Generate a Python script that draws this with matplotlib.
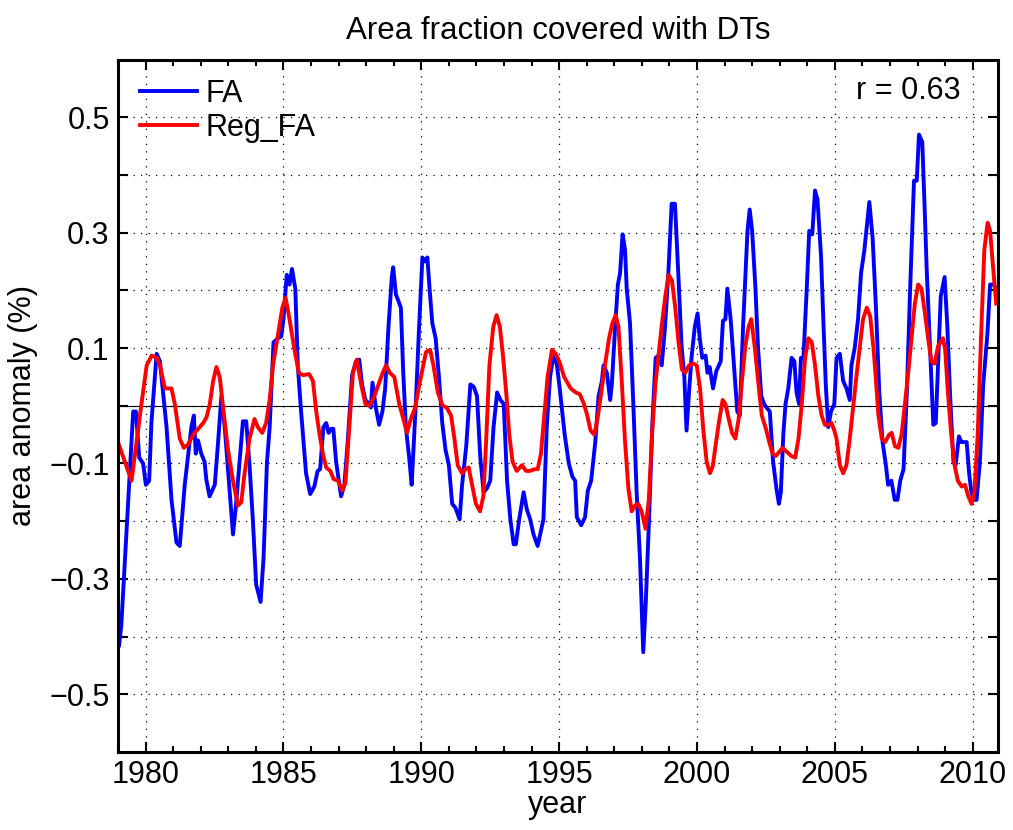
import matplotlib
matplotlib.use('Agg')
import matplotlib.pyplot as plt
from matplotlib.ticker import FixedLocator, MultipleLocator

# FA anomaly (%), read at the turning points of the curve
fa_year = [1979.04, 1979.12, 1979.55, 1979.65, 1979.77, 1979.91, 1980.01, 1980.13, 1980.21,
           1980.40, 1980.52, 1980.76, 1980.94, 1981.12, 1981.24, 1981.42, 1981.66, 1981.75, 1981.82,
           1981.90, 1982.02, 1982.14, 1982.20, 1982.32, 1982.51, 1982.63, 1982.75, 1982.87, 1983.05,
           1983.17, 1983.27, 1983.41, 1983.53, 1983.65, 1983.77, 1983.89, 1984.01, 1984.17, 1984.28,
           1984.40, 1984.50, 1984.64, 1984.80, 1984.92, 1985.00, 1985.12, 1985.22, 1985.31, 1985.43,
           1985.52, 1985.64, 1985.82, 1985.97, 1986.12, 1986.24, 1986.33, 1986.45, 1986.55, 1986.64,
           1986.73, 1986.81, 1986.91, 1987.09, 1987.21, 1987.33, 1987.49, 1987.63, 1987.75, 1987.85,
           1987.97, 1988.11, 1988.17, 1988.23, 1988.35, 1988.47, 1988.59, 1988.69, 1988.81, 1988.93,
           1988.98, 1989.08, 1989.26, 1989.34, 1989.44, 1989.56, 1989.65, 1989.80, 1989.92, 1990.04,
           1990.13, 1990.22, 1990.30, 1990.40, 1990.52, 1990.64, 1990.76, 1990.88, 1991.00, 1991.12,
           1991.24, 1991.39, 1991.48, 1991.63, 1991.78, 1991.90, 1992.02, 1992.14, 1992.26, 1992.38,
           1992.50, 1992.62, 1992.75, 1992.87, 1992.99, 1993.11, 1993.23, 1993.35, 1993.43, 1993.55,
           1993.71, 1993.83, 1993.95, 1994.07, 1994.22, 1994.34, 1994.43, 1994.55, 1994.67, 1994.80,
           1994.92, 1995.02, 1995.20, 1995.35, 1995.48, 1995.58, 1995.64, 1995.80, 1995.94, 1996.04,
           1996.16, 1996.31, 1996.43, 1996.55, 1996.61, 1996.73, 1996.85, 1996.91, 1997.03, 1997.13,
           1997.21, 1997.30, 1997.39, 1997.45, 1997.57, 1997.69, 1997.81, 1997.93, 1998.05, 1998.14,
           1998.26, 1998.38, 1998.50, 1998.60, 1998.72, 1998.84, 1998.96, 1999.08, 1999.20, 1999.32,
           1999.44, 1999.54, 1999.62, 1999.71, 1999.80, 1999.92, 2000.02, 2000.10, 2000.19, 2000.31,
           2000.38, 2000.46, 2000.58, 2000.70, 2000.86, 2000.94, 2001.03, 2001.10, 2001.22, 2001.34,
           2001.46, 2001.55, 2001.67, 2001.83, 2001.91, 2002.00, 2002.12, 2002.21, 2002.33, 2002.43,
           2002.52, 2002.64, 2002.76, 2002.88, 2002.97, 2003.04, 2003.13, 2003.21, 2003.31, 2003.43,
           2003.53, 2003.61, 2003.70, 2003.77, 2003.86, 2003.98, 2004.07, 2004.18, 2004.28, 2004.37,
           2004.50, 2004.58, 2004.67, 2004.76, 2004.86, 2004.98, 2005.06, 2005.18, 2005.30, 2005.42,
           2005.54, 2005.60, 2005.72, 2005.84, 2005.95, 2006.07, 2006.25, 2006.37, 2006.49, 2006.61,
           2006.73, 2006.85, 2006.93, 2007.05, 2007.17, 2007.27, 2007.37, 2007.49, 2007.61, 2007.73,
           2007.87, 2007.97, 2008.05, 2008.17, 2008.26, 2008.33, 2008.42, 2008.50, 2008.57, 2008.66,
           2008.74, 2008.84, 2008.98, 2009.08, 2009.18, 2009.30, 2009.38, 2009.50, 2009.59, 2009.66,
           2009.78, 2009.87, 2009.95, 2010.05, 2010.14, 2010.26, 2010.38, 2010.53, 2010.63, 2010.75,
           2010.90]
fa = [-0.415, -0.380, -0.010, -0.010, -0.090, -0.100, -0.137, -0.130, -0.030,
      0.090, 0.077, -0.037, -0.163, -0.237, -0.243, -0.137, -0.037, -0.017, -0.083,
      -0.060, -0.083, -0.097, -0.127, -0.157, -0.137, -0.063, 0.017, -0.037, -0.150,
      -0.223, -0.177, -0.097, -0.027, -0.027, -0.103, -0.197, -0.310, -0.340, -0.263,
      -0.100, -0.037, 0.110, 0.117, 0.120, 0.150, 0.227, 0.210, 0.237, 0.203,
      0.070, -0.010, -0.117, -0.153, -0.140, -0.113, -0.110, -0.037, -0.030, -0.047,
      -0.040, -0.040, -0.097, -0.157, -0.137, -0.063, 0.053, 0.077, 0.080, 0.037,
      0.010, 0.003, -0.003, 0.040, -0.003, -0.033, -0.010, 0.030, 0.137, 0.223,
      0.240, 0.193, 0.170, 0.063, -0.037, -0.090, -0.137, 0.003, 0.137, 0.257,
      0.250, 0.257, 0.203, 0.143, 0.117, 0.050, -0.030, -0.077, -0.103, -0.170,
      -0.177, -0.197, -0.137, -0.070, 0.037, 0.033, 0.017, -0.090, -0.150, -0.143,
      -0.130, -0.037, 0.023, 0.010, 0.003, -0.130, -0.197, -0.240, -0.240, -0.197,
      -0.150, -0.180, -0.197, -0.223, -0.243, -0.217, -0.197, -0.037, 0.050, 0.090,
      0.070, 0.030, -0.050, -0.100, -0.123, -0.130, -0.193, -0.207, -0.193, -0.147,
      -0.130, -0.063, 0.017, 0.043, 0.070, 0.057, 0.010, 0.037, 0.137, 0.210,
      0.230, 0.297, 0.270, 0.203, 0.143, 0.003, -0.150, -0.263, -0.427, -0.343,
      -0.197, -0.030, 0.083, 0.087, 0.070, 0.137, 0.230, 0.350, 0.350, 0.230,
      0.103, 0.050, -0.043, 0.023, 0.083, 0.137, 0.160, 0.117, 0.083, 0.087,
      0.057, 0.067, 0.030, 0.060, 0.077, 0.147, 0.150, 0.203, 0.150, 0.070,
      -0.010, -0.017, 0.137, 0.303, 0.340, 0.303, 0.203, 0.103, 0.017, 0.003,
      -0.003, -0.010, -0.097, -0.143, -0.170, -0.150, -0.050, 0.003, 0.030, 0.083,
      0.077, 0.023, 0.003, 0.083, 0.083, 0.203, 0.303, 0.297, 0.373, 0.357,
      0.257, 0.150, 0.037, -0.037, -0.010, 0.003, 0.083, 0.090, 0.043, 0.030,
      0.010, 0.070, 0.100, 0.150, 0.230, 0.270, 0.353, 0.290, 0.170, 0.023,
      -0.063, -0.103, -0.137, -0.130, -0.163, -0.163, -0.130, -0.110, 0.023, 0.203,
      0.390, 0.390, 0.470, 0.457, 0.337, 0.237, 0.137, 0.050, -0.033, -0.030,
      0.070, 0.190, 0.223, 0.137, 0.017, -0.097, -0.103, -0.053, -0.063, -0.063,
      -0.063, -0.117, -0.150, -0.163, -0.163, -0.097, 0.037, 0.123, 0.210, 0.210,
      0.200]

# regression-based FA (Reg_FA)
reg_year = [1979.00, 1979.25, 1979.49, 1979.67, 1979.85, 1980.04, 1980.22, 1980.40, 1980.52, 1980.70,
            1980.82, 1980.94, 1981.06, 1981.24, 1981.39, 1981.54, 1981.73, 1981.91, 1982.09, 1982.21,
            1982.33, 1982.45, 1982.57, 1982.69, 1982.81, 1982.99, 1983.17, 1983.35, 1983.47, 1983.59,
            1983.77, 1983.95, 1984.07, 1984.23, 1984.37, 1984.50, 1984.62, 1984.80, 1984.96, 1985.08,
            1985.22, 1985.40, 1985.56, 1985.71, 1985.93, 1986.07, 1986.19, 1986.31, 1986.43, 1986.55,
            1986.70, 1986.82, 1986.98, 1987.13, 1987.25, 1987.37, 1987.52, 1987.66, 1987.82, 1987.97,
            1988.12, 1988.30, 1988.45, 1988.60, 1988.72, 1988.86, 1989.02, 1989.20, 1989.35, 1989.48,
            1989.62, 1989.78, 1989.93, 1990.17, 1990.32, 1990.44, 1990.60, 1990.77, 1990.92, 1991.08,
            1991.20, 1991.32, 1991.48, 1991.60, 1991.72, 1991.84, 1991.98, 1992.13, 1992.25, 1992.35,
            1992.47, 1992.61, 1992.73, 1992.85, 1992.97, 1993.09, 1993.19, 1993.31, 1993.46, 1993.65,
            1993.80, 1993.94, 1994.10, 1994.22, 1994.34, 1994.46, 1994.58, 1994.74, 1994.88, 1995.02,
            1995.18, 1995.42, 1995.60, 1995.75, 1995.90, 1996.02, 1996.14, 1996.27, 1996.39, 1996.51,
            1996.66, 1996.81, 1996.93, 1997.05, 1997.15, 1997.27, 1997.39, 1997.51, 1997.63, 1997.75,
            1997.87, 1997.99, 1998.13, 1998.25, 1998.37, 1998.49, 1998.61, 1998.73, 1998.85, 1998.97,
            1999.09, 1999.21, 1999.33, 1999.45, 1999.57, 1999.71, 1999.87, 1999.99, 2000.11, 2000.23,
            2000.35, 2000.47, 2000.57, 2000.67, 2000.79, 2000.93, 2001.03, 2001.15, 2001.27, 2001.39,
            2001.51, 2001.63, 2001.75, 2001.87, 2001.97, 2002.09, 2002.23, 2002.35, 2002.50, 2002.62,
            2002.74, 2002.86, 2002.98, 2003.10, 2003.26, 2003.42, 2003.56, 2003.68, 2003.80, 2003.92,
            2004.04, 2004.16, 2004.28, 2004.40, 2004.52, 2004.64, 2004.76, 2004.88, 2004.98, 2005.06,
            2005.18, 2005.30, 2005.42, 2005.54, 2005.66, 2005.78, 2005.90, 2006.02, 2006.16, 2006.28,
            2006.40, 2006.48, 2006.58, 2006.70, 2006.82, 2006.97, 2007.06, 2007.18, 2007.30, 2007.42,
            2007.54, 2007.66, 2007.78, 2007.90, 2008.02, 2008.14, 2008.26, 2008.38, 2008.50, 2008.62,
            2008.74, 2008.92, 2009.00, 2009.10, 2009.22, 2009.34, 2009.46, 2009.60, 2009.72, 2009.84,
            2009.96, 2010.06, 2010.18, 2010.30, 2010.42, 2010.54, 2010.63, 2010.72, 2010.85]
reg_fa = [-0.063, -0.097, -0.130, -0.063, 0.003, 0.070, 0.087, 0.083, 0.070, 0.030,
          0.030, 0.030, 0.003, -0.057, -0.073, -0.067, -0.050, -0.040, -0.030, -0.020,
          0.003, 0.043, 0.067, 0.050, -0.003, -0.077, -0.130, -0.173, -0.167, -0.117,
          -0.057, -0.023, -0.037, -0.047, -0.030, 0.010, 0.070, 0.123, 0.170, 0.187,
          0.150, 0.097, 0.057, 0.053, 0.055, 0.043, -0.010, -0.050, -0.083, -0.107,
          -0.113, -0.127, -0.130, -0.147, -0.133, -0.050, 0.057, 0.080, 0.037, 0.003,
          0.000, 0.017, 0.037, 0.057, 0.070, 0.057, 0.050, 0.003, -0.023, -0.047,
          -0.023, -0.003, 0.037, 0.093, 0.097, 0.070, 0.023, 0.000, -0.003, -0.017,
          -0.057, -0.103, -0.117, -0.110, -0.107, -0.137, -0.170, -0.183, -0.157, -0.063,
          0.070, 0.137, 0.157, 0.137, 0.083, 0.017, -0.050, -0.097, -0.113, -0.103,
          -0.113, -0.113, -0.110, -0.110, -0.083, -0.017, 0.050, 0.097, 0.090, 0.075,
          0.050, 0.030, 0.023, 0.020, 0.003, -0.017, -0.043, -0.050, -0.023, 0.017,
          0.070, 0.117, 0.143, 0.157, 0.137, 0.043, -0.063, -0.143, -0.183, -0.173,
          -0.170, -0.183, -0.213, -0.163, -0.050, 0.037, 0.090, 0.143, 0.190, 0.227,
          0.217, 0.170, 0.110, 0.063, 0.057, 0.070, 0.073, 0.070, 0.030, -0.043,
          -0.097, -0.117, -0.105, -0.070, -0.030, 0.010, 0.003, -0.023, -0.047, -0.057,
          -0.023, 0.043, 0.103, 0.137, 0.150, 0.103, 0.037, -0.017, -0.040, -0.063,
          -0.083, -0.087, -0.080, -0.073, -0.080, -0.087, -0.090, -0.057, 0.003, 0.083,
          0.117, 0.110, 0.070, 0.017, -0.017, -0.033, -0.033, -0.030, -0.043, -0.057,
          -0.103, -0.117, -0.103, -0.057, -0.003, 0.050, 0.100, 0.150, 0.170, 0.155,
          0.100, 0.050, -0.017, -0.057, -0.063, -0.050, -0.047, -0.070, -0.073, -0.050,
          0.003, 0.057, 0.117, 0.177, 0.210, 0.203, 0.163, 0.117, 0.077, 0.073,
          0.103, 0.117, 0.097, 0.023, -0.050, -0.103, -0.130, -0.140, -0.137, -0.157,
          -0.170, -0.150, -0.050, 0.117, 0.270, 0.317, 0.303, 0.250, 0.177]

x_ticks = [1980, 1985, 1990, 1995, 2000, 2005, 2010]
y_ticks = [-0.5, -0.4, -0.3, -0.2, -0.1, 0.0, 0.1, 0.2, 0.3, 0.4, 0.5]
y_ticklabels = ['\u22120.5', '', '\u22120.3', '', '\u22120.1', '', '0.1', '', '0.3', '', '0.5']
r_value = 0.63

plt.rcParams['font.family'] = ['Liberation Sans', 'DejaVu Sans']
plt.rcParams['font.size'] = 22

fig = plt.figure(figsize=(10.13, 8.3), dpi=100)
ax = fig.add_axes([0.1165, 0.094, 0.8687, 0.8343])

ax.plot(fa_year, fa, color=(0, 0, 1), lw=2.8, label='FA')
ax.plot(reg_year, reg_fa, color=(1, 0, 0), lw=2.8, label='Reg_FA')
ax.axhline(0, color='k', lw=0.8, zorder=1)

ax.set_xlim(1979, 2010 + 11 / 12)
ax.set_ylim(-0.6, 0.6)

ax.xaxis.set_major_locator(FixedLocator(x_ticks))
ax.xaxis.set_minor_locator(MultipleLocator(1))
ax.set_yticks(y_ticks)
ax.set_yticklabels(y_ticklabels)

ax.tick_params(which='both', direction='in', top=True, right=True, width=1.5, color='k')
ax.tick_params(which='major', length=7, pad=6)
ax.tick_params(which='minor', length=4)
ax.grid(True, which='major', color='k', linestyle=(0, (1, 5)), linewidth=0.9)

for s in ax.spines.values():
    s.set_linewidth(2.2)

ax.set_xlabel('year', labelpad=0)
ax.set_ylabel('area anomaly (%)', labelpad=8)
ax.set_title('Area fraction covered with DTs', fontsize=22.5, pad=15)

ax.legend(loc='upper left', bbox_to_anchor=(0.025, 0.972), frameon=False,
          borderaxespad=0, borderpad=0, handlelength=1.85, handletextpad=0.3,
          labelspacing=0.12)
ax.text(0.957, 0.955, 'r = %.2f' % r_value, transform=ax.transAxes,
        ha='right', va='center')

fig.savefig('out.png', dpi=100)
